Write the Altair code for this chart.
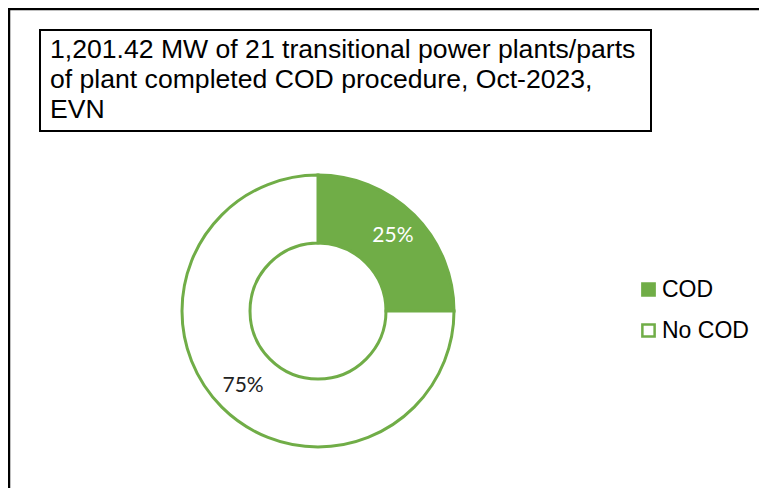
import altair as alt
import pandas as pd

categories = ["COD", "No COD"]
shares = [25, 75]
label_texts = ["25%", "75%"]
title_lines = [
    "1,201.42 MW of 21 transitional power plants/parts",
    "of plant completed COD procedure, Oct-2023,",
    "EVN",
]

GREEN = "#70AD47"
df = pd.DataFrame({"cat": categories, "value": shares, "label": label_texts, "idx": [0, 1]})

CX, CY = 310, 303

base = alt.Chart(df)

arc = base.mark_arc(outerRadius=136, innerRadius=68, stroke=GREEN, strokeWidth=3).encode(
    theta=alt.Theta("value:Q", stack=True),
    order=alt.Order("idx:Q"),
    fill=alt.Fill(
        "cat:N",
        scale=alt.Scale(domain=categories, range=[GREEN, "white"]),
        legend=alt.Legend(
            title=None,
            orient="none",
            legendX=629,
            legendY=270,
            symbolType="square",
            symbolSize=150,
            symbolStrokeColor=GREEN,
            symbolStrokeWidth=2.5,
            labelFont="Liberation Sans",
            labelFontSize=23,
            labelColor="black",
            labelOffset=2,
            rowPadding=17,
        ),
    ),
    x=alt.value(CX),
    y=alt.value(CY),
)

labels = base.mark_text(font="Lato", fontSize=21, radius=106).encode(
    theta=alt.Theta("value:Q", stack=True),
    order=alt.Order("idx:Q"),
    detail="cat:N",
    text="label:N",
    color=alt.condition(alt.datum.cat == "COD", alt.value("white"), alt.value("#222222")),
    x=alt.value(CX),
    y=alt.value(CY),
)

frame_top = alt.Chart(pd.DataFrame({"a": [0]})).mark_rule(color="black", strokeWidth=2.5).encode(
    x=alt.value(0), x2=alt.value(751), y=alt.value(1)
)
frame_left = alt.Chart(pd.DataFrame({"a": [0]})).mark_rule(color="black", strokeWidth=2.5).encode(
    x=alt.value(1), y=alt.value(0), y2=alt.value(480)
)

title_box = alt.Chart(pd.DataFrame({"a": [0]})).mark_rect(
    fill="white", stroke="black", strokeWidth=2
).encode(x=alt.value(32), x2=alt.value(643), y=alt.value(22), y2=alt.value(123))

title_text = alt.Chart(pd.DataFrame({"a": [0]})).mark_text(
    font="Liberation Sans", fontSize=26.6, align="left", baseline="top", lineHeight=30, color="black"
).encode(x=alt.value(42), y=alt.value(29), text=alt.value(title_lines))

chart = alt.layer(frame_top, frame_left, arc, labels, title_box, title_text).properties(
    width=751, height=480, autosize=alt.AutoSizeParams(type="none"), padding=0
).configure_view(stroke=None).configure(background="white")

chart.save("out.html", embed_options={"renderer": "svg", "actions": False})
